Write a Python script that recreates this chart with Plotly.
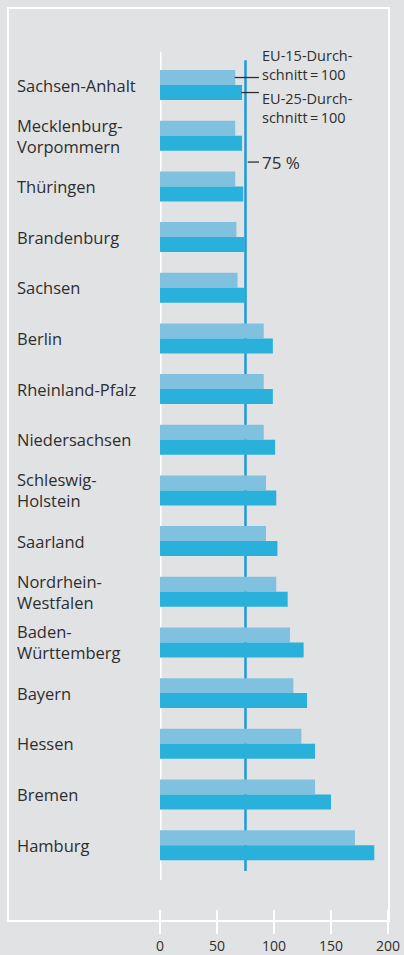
import plotly.graph_objects as go

states = ["Sachsen-Anhalt", "Mecklenburg-<br>Vorpommern", "Thüringen", "Brandenburg", "Sachsen",
          "Berlin", "Rheinland-Pfalz", "Niedersachsen", "Schleswig-<br>Holstein", "Saarland",
          "Nordrhein-<br>Westfalen", "Baden-<br>Württemberg", "Bayern", "Hessen", "Bremen", "Hamburg"]
eu15 = [66, 66, 66, 67, 68, 91, 91, 91, 93, 93, 102, 114, 117, 124, 136, 171]
eu25 = [72, 72, 73, 74, 75, 99, 99, 101, 102, 103, 112, 126, 129, 136, 150, 188]
ticks = [0, 50, 100, 150, 200]
threshold = 75

BG = "#e1e2e4"
LIGHT = "#80c1e0"
DARK = "#29b1dc"
TXT = "#2e2e2e"
FONT = "Open Sans"

idx = list(range(len(states)))

fig = go.Figure()
fig.add_trace(go.Bar(y=idx, x=eu15, orientation="h", marker=dict(color=LIGHT, line=dict(width=0)),
                     name="EU-15", showlegend=False, hoverinfo="x"))
fig.add_trace(go.Bar(y=idx, x=eu25, orientation="h", marker=dict(color=DARK, line=dict(width=0)),
                     name="EU-25", showlegend=False, hoverinfo="x"))

shapes = []
# outer white frame
shapes.append(dict(type="rect", xref="paper", yref="paper", x0=-0.6667, x1=1.0044, y0=-0.0133, y1=1.0,
                   line=dict(color="white", width=2), fillcolor="rgba(0,0,0,0)", layer="below"))
# zero line
shapes.append(dict(type="line", xref="x", yref="y", x0=0, x1=0, y0=-0.651, y1=15.69,
                   line=dict(color="white", width=3), layer="below"))
# 75% line
shapes.append(dict(type="line", xref="x", yref="y", x0=threshold, x1=threshold, y0=-0.49, y1=15.51,
                   line=dict(color="#1b9ad6", width=2.5), layer="below"))
# leader lines
shapes.append(dict(type="line", xref="x", yref="y", x0=eu15[0] - 0.5, x1=86.8, y0=-0.148, y1=-0.148,
                   line=dict(color=TXT, width=1.3)))
shapes.append(dict(type="line", xref="x", yref="y", x0=eu25[0] - 0.5, x1=86.8, y0=0.148, y1=0.148,
                   line=dict(color=TXT, width=1.3)))
shapes.append(dict(type="line", xref="x", yref="y", x0=threshold + 2, x1=86.8, y0=1.52, y1=1.52,
                   line=dict(color=TXT, width=1.3)))

annotations = []
for i, s in enumerate(states):
    annotations.append(dict(xref="paper", yref="y", x=-0.636, y=i, text=s, showarrow=False,
                            xanchor="left", yanchor="middle", align="left",
                            font=dict(family=FONT, size=16.5, color=TXT)))
annotations.append(dict(xref="x", yref="y", x=87.8, y=-0.405, text="EU-15-Durch-<br>schnitt\u2009=\u2009100",
                        showarrow=False, xanchor="left", yanchor="middle", align="left",
                        font=dict(family=FONT, size=14.5, color=TXT)))
annotations.append(dict(xref="x", yref="y", x=87.8, y=0.45, text="EU-25-Durch-<br>schnitt\u2009=\u2009100",
                        showarrow=False, xanchor="left", yanchor="middle", align="left",
                        font=dict(family=FONT, size=14.5, color=TXT)))
annotations.append(dict(xref="x", yref="y", x=87.8, y=1.52, text="75 %",
                        showarrow=False, xanchor="left", yanchor="middle", align="left",
                        font=dict(family=FONT, size=17, color=TXT)))

fig.update_layout(
    width=404, height=955,
    margin=dict(l=160, r=16, t=8, b=46, autoexpand=False),
    paper_bgcolor=BG, plot_bgcolor="rgba(0,0,0,0)",
    barmode="group", bargap=0.408, bargroupgap=0,
    shapes=shapes, annotations=annotations,
    xaxis=dict(range=[0, 200], tickvals=ticks, ticktext=[str(t) for t in ticks],
               ticks="outside", ticklen=24, tickwidth=2, tickcolor="white",
               showgrid=False, zeroline=False, showline=False, automargin=False,
               tickfont=dict(family=FONT, size=14, color=TXT), fixedrange=True),
    yaxis=dict(range=[16.26, -1.52], showticklabels=False, ticks="", showgrid=False,
               zeroline=False, showline=False, automargin=False, fixedrange=True),
    font=dict(family=FONT, color=TXT),
)

fig.write_html("out.html")
